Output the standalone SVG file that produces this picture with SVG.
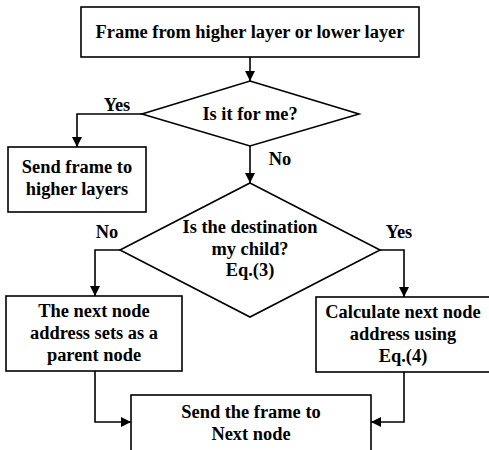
<svg xmlns="http://www.w3.org/2000/svg" width="489" height="450" viewBox="0 0 489 450" font-family="Liberation Serif, Times New Roman, serif">
<defs>
<marker id="ah" markerWidth="10" markerHeight="10" refX="10" refY="5" orient="auto" markerUnits="userSpaceOnUse">
<path d="M0,0 L10,5 L0,10 Z" fill="#000"/>
</marker>
<style>
.s{fill:#fff;stroke:#000;stroke-width:1.6}
.c{fill:none;stroke:#000;stroke-width:1.6;marker-end:url(#ah)}
text{font-family:'Liberation Serif','Times New Roman',serif;font-weight:bold;font-size:18.4px;fill:#000;text-anchor:middle}
</style>
</defs>
<rect width="489" height="450" fill="#fff"/>
<g id="connectors">
<path class="c" d="M250,57 L250,81"/>
<path class="c" d="M142,114 L77,114 L77,147"/>
<path class="c" d="M250,146 L250,183"/>
<path class="c" d="M120,250 L95,250 L95,296"/>
<path class="c" d="M380,250 L404,250 L404,297"/>
<path class="c" d="M95,371 L95,422 L131,422"/>
<path class="c" d="M404,372 L404,422 L371,422"/>
<text x="117" y="111">Yes</text>
<text x="280" y="165">No</text>
<text x="107" y="238">No</text>
<text x="399" y="238">Yes</text>
</g>
<g id="start">
<rect class="s" x="81" y="7" width="338" height="50"/>
<text x="250" y="38">Frame from higher layer or lower layer</text>
</g>
<g id="forme">
<polygon class="s" points="250,81 359,114 250,146 142,114"/>
<text x="250" y="120">Is it for me?</text>
</g>
<g id="sendhigher">
<rect class="s" x="8" y="147" width="138" height="65"/>
<text x="77" y="173">Send frame to</text>
<text x="77" y="195">higher layers</text>
</g>
<g id="child">
<polygon class="s" points="250,183 380,250 250,317 120,250"/>
<text x="250" y="233">Is the destination</text>
<text x="250" y="255">my child?</text>
<text x="250" y="276">Eq.(3)</text>
</g>
<g id="parent">
<rect class="s" x="6" y="296" width="176" height="75"/>
<text x="94" y="317">The next node</text>
<text x="94" y="339">address sets as a</text>
<text x="94" y="361">parent node</text>
</g>
<g id="calc">
<rect class="s" x="316" y="297" width="180" height="75"/>
<text x="403" y="318">Calculate next node</text>
<text x="403" y="340">address using</text>
<text x="403" y="362">Eq.(4)</text>
</g>
<g id="sendnext">
<rect class="s" x="131" y="395" width="240" height="70"/>
<text x="251" y="418">Send the frame to</text>
<text x="251" y="440">Next node</text>
</g>
</svg>
